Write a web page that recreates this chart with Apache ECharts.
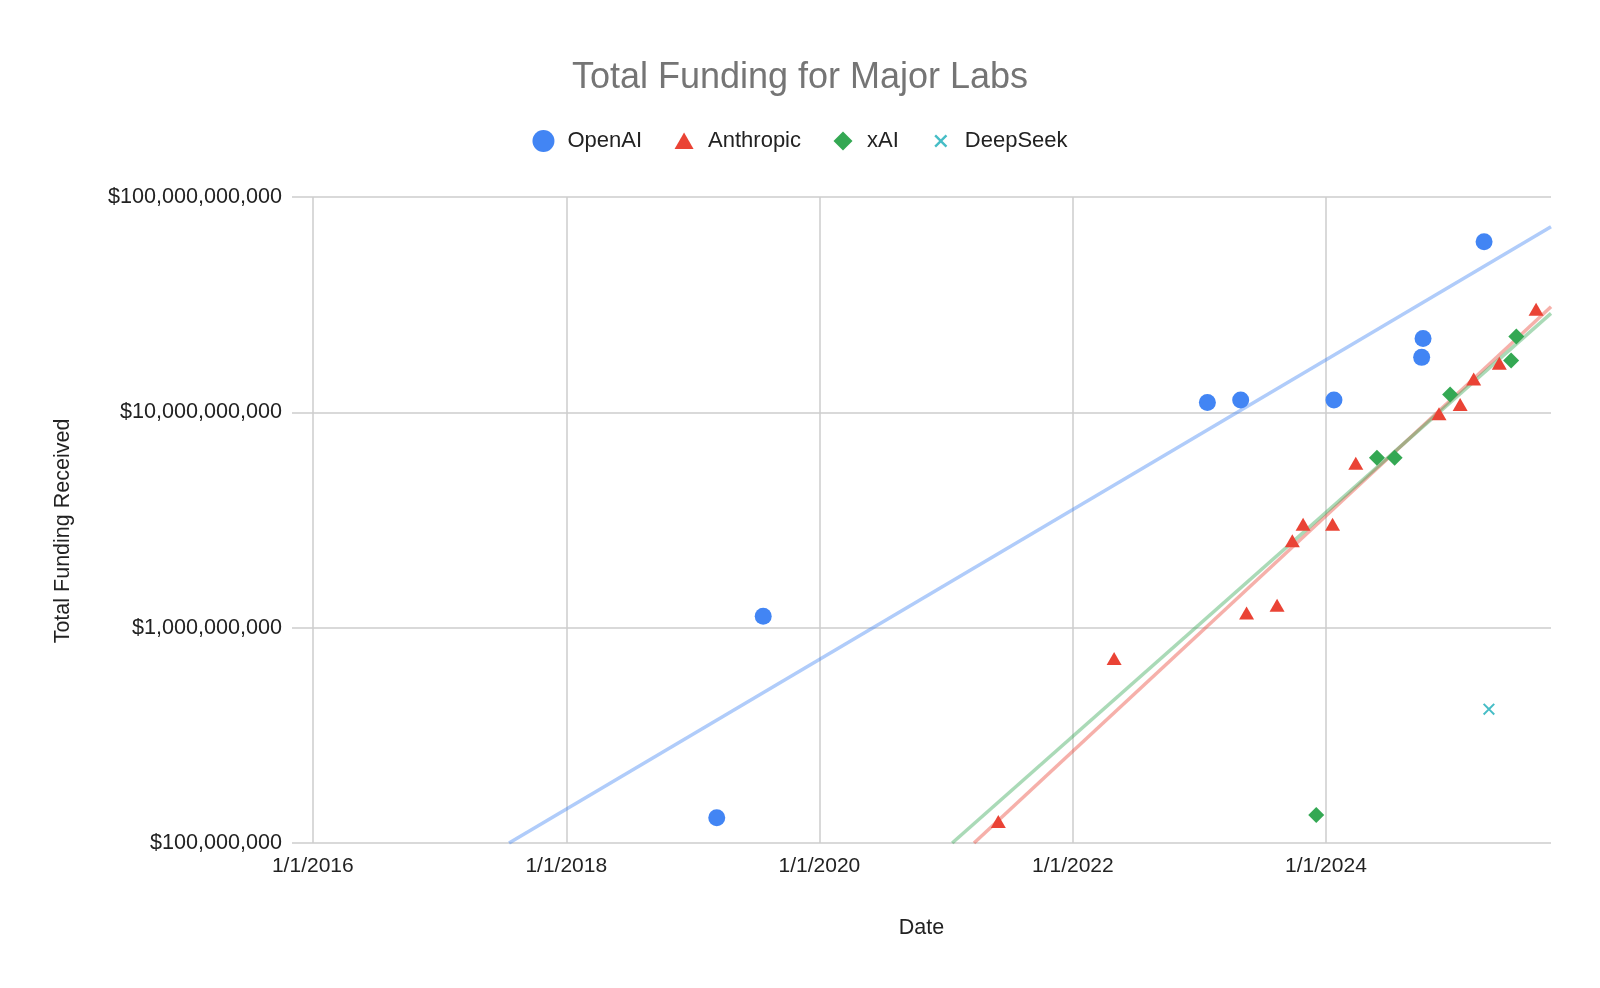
<!DOCTYPE html>
<html>
<head>
<meta charset="utf-8">
<title>Total Funding for Major Labs</title>
<script src="https://cdn.jsdelivr.net/npm/echarts@6/dist/echarts.min.js"></script>
<style>
  html, body { margin: 0; padding: 0; background: #fff; }
  #chart { width: 1600px; height: 988px; }
</style>
</head>
<body>
<div id="chart"></div>
<script>
// funding rounds: date of round, total funding received (USD)
const openaiDates = ['2019-03-11', '2019-07-23', '2023-01-24', '2023-04-30', '2024-01-24', '2024-10-03', '2024-10-07', '2025-04-01'];
const openaiFunding = [1.31e8, 1.13e9, 1.11e10, 1.14e10, 1.14e10, 1.80e10, 2.20e10, 6.19e10];

const anthropicDates = ['2021-05-31', '2022-04-30', '2023-05-17', '2023-08-13', '2023-09-26', '2023-10-27', '2024-01-20',
  '2024-03-27', '2024-11-22', '2025-01-22', '2025-03-02', '2025-05-15', '2025-08-29'];
const anthropicFunding = [1.26e8, 7.2e8, 1.17e9, 1.27e9, 2.53e9, 3.02e9, 3.02e9, 5.8e9, 9.85e9, 1.087e10, 1.43e10, 1.69e10, 3.01e10];

const xaiDates = ['2023-12-04', '2024-05-27', '2024-07-17', '2024-12-24', '2025-06-18', '2025-07-03'];
const xaiFunding = [1.35e8, 6.15e9, 6.15e9, 1.21e10, 1.74e10, 2.25e10];

const deepseekDates = ['2025-04-15'];
const deepseekFunding = [4.18e8];

// exponential trendlines (as drawn by Sheets), from where they enter the plot to the right edge
const openaiTrendDates = ['2017-07-20', '2025-10-11'];
const openaiTrend = [1e8, 7.28e10];
const anthropicTrendDates = ['2021-03-22', '2025-10-11'];
const anthropicTrend = [1e8, 3.09e10];
const xaiTrendDates = ['2021-01-18', '2025-10-11'];
const xaiTrend = [1e8, 2.88e10];

// axes
const axisStart = '2015-11-02';
const axisEnd = '2025-10-11';
const xTicks = ['2016-01-01', '2018-01-01', '2020-01-01', '2022-01-01', '2024-01-01'];
const yMin = 1e8;
const yMax = 1e11;

const font = '"Liberation Sans", Arial, sans-serif';
const textColor = '#222222';
const gridColor = '#cccccc';

function ts(s) {
  const p = s.split('-');
  return Date.UTC(+p[0], +p[1] - 1, +p[2]);
}
function pairs(dates, values) {
  return dates.map((d, i) => [ts(d), values[i]]);
}
function fmtDate(v) {
  const d = new Date(v);
  return (d.getUTCMonth() + 1) + '/' + d.getUTCDate() + '/' + d.getUTCFullYear();
}
function fmtMoney(v) {
  return '$' + Math.round(v).toLocaleString('en-US');
}

// an "x" marker as a filled polygon; pad adds invisible move-to corners so the
// legend box keeps some air around the glyph
function crossPath(a, b, t, pad) {
  const c = (a + b) / 2;
  const pts = [[a + t, a], [c, c - t], [b - t, a], [b, a + t], [c + t, c], [b, b - t],
    [b - t, b], [c, c + t], [a + t, b], [a, b - t], [c - t, c], [a, a + t]];
  let d = pad ? 'M0,0 M' + pad + ',' + pad + ' ' : '';
  d += 'M' + pts.map(p => p[0] + ',' + p[1]).join(' L') + ' Z';
  return 'path://' + d;
}
const triangleIcon = 'path://M0,0 M22,22 M11,2.5 L20.5,19 L1.5,19 Z';
const diamondIcon = 'path://M0,0 M22,22 M11,1.5 L20.5,11 L11,20.5 L1.5,11 Z';

const colors = {
  OpenAI: '#4285f4',
  Anthropic: '#ea4335',
  xAI: '#34a853',
  DeepSeek: '#46bdc6'
};

function trend(name, dates, values) {
  return {
    name: name + ' trend',
    type: 'line',
    data: pairs(dates, values),
    symbol: 'none',
    silent: true,
    z: 1,
    lineStyle: { color: colors[name], width: 3.5, opacity: 0.42 }
  };
}

const chart = echarts.init(document.getElementById('chart'), null, { renderer: 'canvas' });

chart.setOption({
  animation: false,
  backgroundColor: '#ffffff',
  textStyle: { fontFamily: font },
  title: {
    text: 'Total Funding for Major Labs',
    left: 'center',
    top: 55,
    textStyle: { fontSize: 36, fontWeight: 'normal', color: '#757575', fontFamily: font }
  },
  legend: {
    top: 125,
    left: 'center',
    itemWidth: 22,
    itemHeight: 22,
    itemGap: 31,
    textStyle: { fontSize: 22, color: textColor, fontFamily: font, padding: [0, 0, 0, 8] },
    data: [
      { name: 'OpenAI', icon: 'circle' },
      { name: 'Anthropic', icon: triangleIcon },
      { name: 'xAI', icon: diamondIcon },
      { name: 'DeepSeek', icon: crossPath(4.5, 17.5, 1.7, 22) }
    ]
  },
  grid: { left: 292, right: 49, top: 197, bottom: 145 },
  xAxis: {
    type: 'value',
    min: ts(axisStart),
    max: ts(axisEnd),
    name: 'Date',
    nameLocation: 'middle',
    nameGap: 74,
    nameTextStyle: { fontSize: 21.5, color: textColor, fontFamily: font },
    axisLine: { show: false },
    axisTick: { show: false, customValues: xTicks.map(ts) },
    axisLabel: {
      customValues: xTicks.map(ts),
      formatter: fmtDate,
      fontSize: 21,
      color: textColor,
      fontFamily: font,
      margin: 13
    },
    splitLine: { show: true, lineStyle: { color: gridColor, width: 1.5 } }
  },
  yAxis: {
    type: 'log',
    logBase: 10,
    min: yMin,
    max: yMax,
    name: 'Total Funding Received',
    nameLocation: 'middle',
    nameGap: 218,
    nameRotate: 90,
    nameTextStyle: { fontSize: 21.5, color: textColor, fontFamily: font, padding: [0, 22, 0, 0] },
    axisLine: { show: false },
    axisTick: { show: false },
    axisLabel: { formatter: fmtMoney, fontSize: 21.6, color: textColor, fontFamily: font, margin: 10 },
    splitLine: { show: true, lineStyle: { color: gridColor, width: 1.5 } }
  },
  series: [
    trend('OpenAI', openaiTrendDates, openaiTrend),
    trend('Anthropic', anthropicTrendDates, anthropicTrend),
    trend('xAI', xaiTrendDates, xaiTrend),
    {
      name: 'OpenAI', type: 'scatter', z: 3,
      data: pairs(openaiDates, openaiFunding),
      symbol: 'circle', symbolSize: 17,
      itemStyle: { color: colors.OpenAI, opacity: 1 }
    },
    {
      name: 'Anthropic', type: 'scatter', z: 3,
      data: pairs(anthropicDates, anthropicFunding),
      symbol: 'triangle', symbolSize: [15, 13],
      itemStyle: { color: colors.Anthropic, opacity: 1 }
    },
    {
      name: 'xAI', type: 'scatter', z: 3,
      data: pairs(xaiDates, xaiFunding),
      symbol: 'diamond', symbolSize: 16,
      itemStyle: { color: colors.xAI, opacity: 1 }
    },
    {
      name: 'DeepSeek', type: 'scatter', z: 3,
      data: pairs(deepseekDates, deepseekFunding),
      symbol: crossPath(0, 13, 1.5, 0), symbolSize: 12,
      itemStyle: { color: colors.DeepSeek, opacity: 1 }
    }
  ]
});
</script>
</body>
</html>
